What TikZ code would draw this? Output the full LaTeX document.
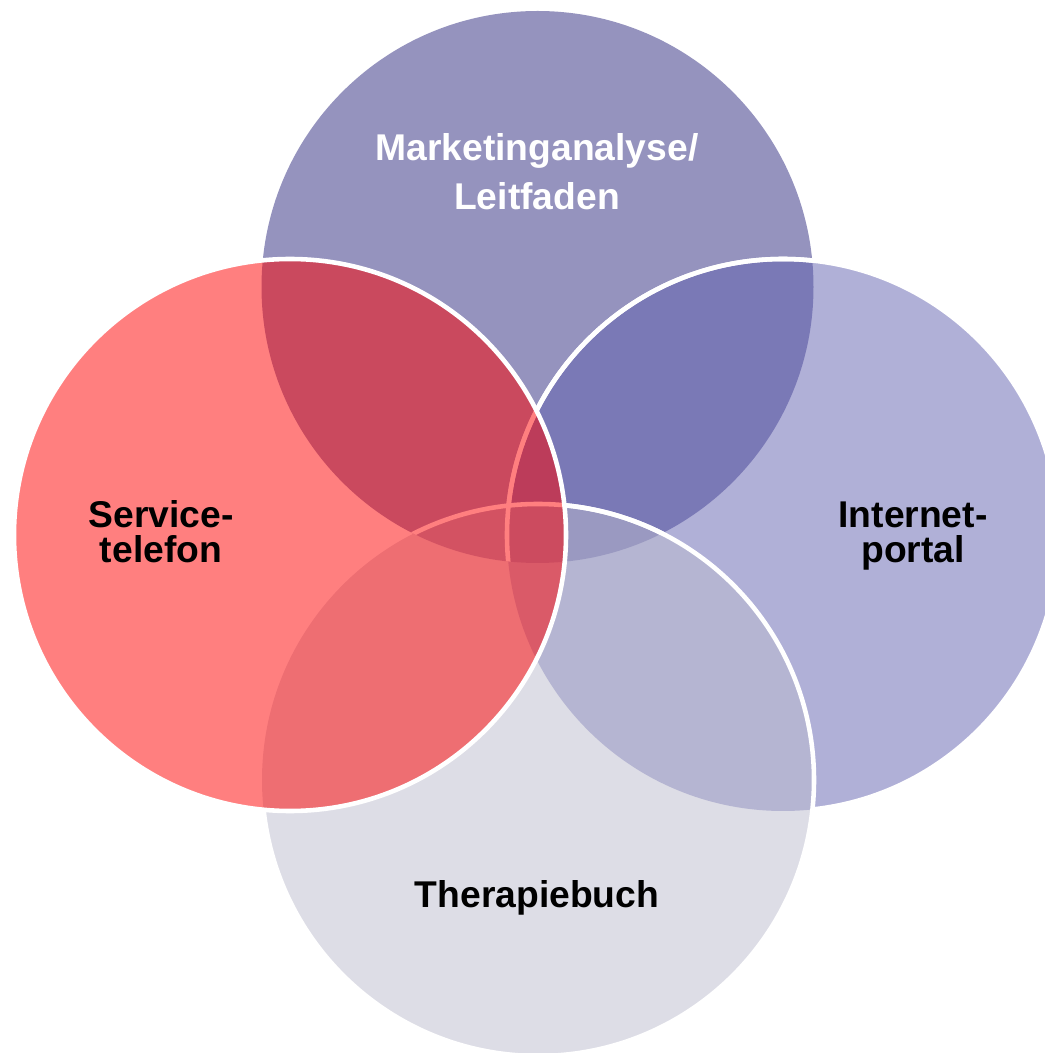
\documentclass[tikz,border=0pt]{standalone}
\usepackage{fontspec}
\setmainfont{Liberation Sans}

\definecolor{topblue}{RGB}{43,39,125}
\definecolor{rightblue}{RGB}{98,97,175}
\definecolor{botgray}{RGB}{187,187,205}
\definecolor{leftred}{RGB}{255,0,0}

\begin{document}
\begin{tikzpicture}[
  disc/.style={fill opacity=.5},
  ring/.style={draw=white, line width=1.3pt},
  lbl/.style={font=\fontsize{10.6pt}{10pt}\selectfont\bfseries, align=center, inner sep=0pt, anchor=base}
]
\pgfmathsetmacro{\myrad}{2.76};

\useasboundingbox (0,0) rectangle (10.45,10.53);
\clip (0,0) rectangle (10.45,10.53);

\coordinate (ctop) at (5.375,7.66);
\coordinate (cleft) at (2.90,5.18);
\coordinate (cright) at (7.83,5.18);
\coordinate (cbot) at (5.38,2.73);

% the three blue discs
\fill[disc, topblue] (ctop) circle (\myrad);
\fill[disc, rightblue] (cright) circle (\myrad);
\fill[disc, botgray] (cbot) circle (\myrad);

% white rims, only where they show
\begin{scope}
\clip (ctop) circle (\myrad);
\draw[ring] (cright) circle (\myrad);
\draw[ring] (cbot) circle (\myrad);
\end{scope}
\begin{scope}[even odd rule]
\clip (0,0) -- (0,10.53) -- (10.45,10.53) -- (10.45,0) -- cycle (cbot) circle (\myrad);
\draw[ring] (cright) circle (\myrad);
\end{scope}
\begin{scope}[even odd rule]
\clip (0,0) -- (0,10.53) -- (10.45,10.53) -- (10.45,0) -- cycle (cleft) circle (\myrad);
\draw[ring] (cbot) circle (\myrad);
\end{scope}

% red disc on top
\fill[disc, leftred] (cleft) circle (\myrad);
\draw[ring] (cleft) circle (\myrad);

\node[lbl, white, font=\fontsize{10.6pt}{14.2pt}\selectfont\bfseries] (mkt) at (5.37,8.43) {Marketinganalyse/\\Leitfaden};
\node[lbl] (srv) at (1.61,4.90) {Service-\\telefon};
\node[lbl] (web) at (9.13,4.90) {Internet-\\portal};
\node[lbl] (book) at (5.37,1.46) {Therapiebuch};
\end{tikzpicture}
\end{document}
